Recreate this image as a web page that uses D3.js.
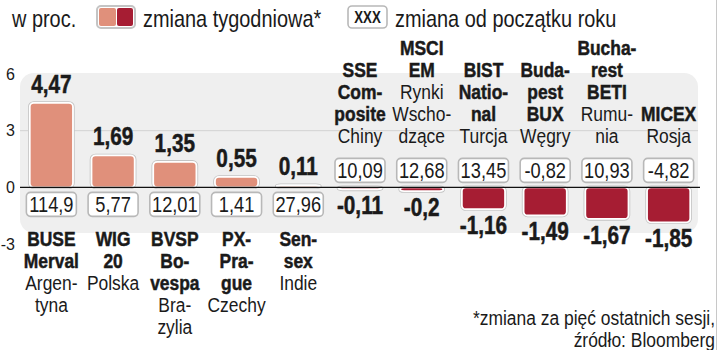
<!DOCTYPE html>
<html>
<head>
<meta charset="utf-8">
<script src="https://cdn.jsdelivr.net/npm/d3@7"></script>
<style>
  body { margin: 0; background: #fff; }
  text { font-family: 'Liberation Sans', Arial, sans-serif; fill: #1a1a1a; }
  .heavy { font-weight: bold; stroke: #1a1a1a; stroke-width: 0.5px; }
</style>
</head>
<body>
<div id="chart"></div>
<script>
// weekly change (bars) and change since start of year (boxes)
const weekly = [4.47, 1.69, 1.35, 0.55, 0.11, -0.11, -0.2, -1.16, -1.49, -1.67, -1.85]
const ytd = [114.9, 5.77, 12.01, 1.41, 27.96, 10.09, 12.68, 13.45, -0.82, 10.93, -4.82]
const indexNames = [
  ['BUSE', 'Merval'], ['WIG', '20'], ['BVSP', 'Bo-', 'vespa'], ['PX-', 'Pra-', 'gue'], ['Sen-', 'sex'],
  ['SSE', 'Com-', 'posite'], ['MSCI', 'EM'], ['BIST', 'Natio-', 'nal'], ['Buda-', 'pest', 'BUX'],
  ['Bucha-', 'rest', 'BETI'], ['MICEX'],
]
const countries = [
  ['Argen-', 'tyna'], ['Polska'], ['Bra-', 'zylia'], ['Czechy'], ['Indie'], ['Chiny'],
  ['Rynki', 'Wscho-', 'dzące'], ['Turcja'], ['Węgry'], ['Rumu-', 'nia'], ['Rosja'],
]
const yTicks = [6, 3, 0, -3]

const width = 720
const height = 350
const narrow = 0.83 // condensed look
const fmt = (v) => String(v).replace('.', ',')
const posColor = '#e0907b'
const negColor = '#a61d33'

const svg = d3.select('#chart').append('svg').attr('width', width).attr('height', height)

// condensed text helper
const cond = (px, py) => `translate(${px},${py}) scale(${narrow},1)`

const x = d3.scaleBand().domain(d3.range(weekly.length)).range([20.5, 699.5]).paddingInner(0.3).paddingOuter(0.15)
const y = d3.scaleLinear().domain([-3, 6]).range([244, 74])
const cx = (i) => x(i) + x.bandwidth() / 2

// right border
svg.append('line').attr('x1', 716.5).attr('x2', 716.5).attr('y1', 0).attr('y2', height)
  .attr('stroke', '#c8c8c8')

// gray panel
svg.append('rect').attr('x', 20).attr('y', 73).attr('width', 678).attr('height', 160)
  .attr('rx', 14).attr('fill', '#efefef')

// gridline at 3
svg.append('line').attr('x1', 20).attr('x2', 698).attr('y1', y(3)).attr('y2', y(3))
  .attr('stroke', '#d2d2d2')

// y axis labels
const yAxis = svg.append('g').attr('transform', 'translate(15,0)')
  .call(d3.axisLeft(y).tickValues(yTicks).tickSize(0).tickPadding(0).tickFormat(fmt))
yAxis.select('.domain').remove()
yAxis.selectAll('text').style('font-size', '16px').attr('fill', '#444')

// bars
const bars = svg.append('g').selectAll('g').data(weekly).join('g')
bars.append('rect')
  .attr('x', (d, i) => x(i)).attr('width', x.bandwidth())
  .attr('y', (d) => y(Math.max(0, d))).attr('height', (d) => Math.abs(y(d) - y(0)))
  .attr('rx', 4).attr('fill', 'none').attr('stroke', '#c4c4c4').attr('stroke-width', 3.5)
bars.append('rect')
  .attr('x', (d, i) => x(i)).attr('width', x.bandwidth())
  .attr('y', (d) => y(Math.max(0, d))).attr('height', (d) => Math.abs(y(d) - y(0)))
  .attr('rx', 4).attr('fill', (d) => (d >= 0 ? posColor : negColor))
  .attr('stroke', '#fff').attr('stroke-width', 1.8)

// zero line
svg.append('line').attr('x1', 20).attr('x2', 700).attr('y1', y(0)).attr('y2', y(0))
  .attr('stroke', '#111').attr('stroke-width', 1.3)

// weekly value labels
svg.append('g').selectAll('text').data(weekly).join('text')
  .attr('class', 'heavy')
  .attr('transform', (d, i) => cond(cx(i), d >= 0 ? y(d) - 10 : y(d) + 25))
  .attr('text-anchor', 'middle').style('font-size', '25px')
  .text(fmt)

// ytd boxes
const boxW = 50
const boxH = 24
const boxes = svg.append('g').selectAll('g').data(ytd).join('g')
  .attr('transform', (d, i) => {
    const top = weekly[i] >= 0 ? y(0) + 5 : y(0) - 5 - boxH
    return `translate(${cx(i) - boxW / 2}, ${top})`
  })
boxes.append('rect').attr('width', boxW).attr('height', boxH).attr('rx', 4)
  .attr('fill', '#fff').attr('stroke', '#b8b8b8').attr('stroke-width', 1.6)
boxes.append('text').attr('transform', cond(boxW / 2, boxH / 2 + 7.5)).attr('text-anchor', 'middle')
  .style('font-size', '22px').text(fmt)

// category labels
const lineH = 22
weekly.forEach((v, i) => {
  const lines = indexNames[i].map((t) => ({ t, b: true })).concat(countries[i].map((t) => ({ t, b: false })))
  const first = v >= 0 ? 246 : 143 - (lines.length - 1) * lineH
  svg.append('g').selectAll('text').data(lines).join('text')
    .attr('class', (d) => (d.b ? 'heavy' : null))
    .attr('transform', (d, j) => cond(cx(i), first + j * lineH))
    .attr('text-anchor', 'middle')
    .style('font-size', '21px')
    .text((d) => d.t)
})

// legend
const legend = svg.append('g')
legend.append('text').attr('transform', cond(12, 27)).style('font-size', '24px').attr('fill', '#333').text('w proc.')
legend.append('rect').attr('x', 97).attr('y', 6).attr('width', 38).attr('height', 22).attr('rx', 4)
  .attr('fill', '#fff').attr('stroke', '#c4c4c4').attr('stroke-width', 2)
legend.append('rect').attr('x', 99).attr('y', 8).attr('width', 17).attr('height', 18).attr('rx', 2).attr('fill', posColor)
legend.append('rect').attr('x', 117).attr('y', 8).attr('width', 16).attr('height', 18).attr('rx', 2).attr('fill', negColor)
legend.append('text').attr('transform', cond(143, 27)).style('font-size', '24px').attr('fill', '#333').text('zmiana tygodniowa*')
legend.append('rect').attr('x', 348).attr('y', 6).attr('width', 39).attr('height', 22).attr('rx', 4)
  .attr('fill', '#fff').attr('stroke', '#b8b8b8').attr('stroke-width', 1.6)
legend.append('text').attr('transform', cond(367.5, 23)).attr('text-anchor', 'middle')
  .style('font-size', '16px').style('font-weight', 'bold').text('XXX')
legend.append('text').attr('transform', cond(395, 27)).style('font-size', '24px').attr('fill', '#333').text('zmiana od początku roku')

// footnote
svg.append('text').attr('transform', cond(715, 325)).attr('text-anchor', 'end').style('font-size', '21px')
  .attr('fill', '#333').text('*zmiana za pięć ostatnich sesji,')
svg.append('text').attr('transform', cond(715, 347)).attr('text-anchor', 'end').style('font-size', '21px')
  .attr('fill', '#333').text('źródło: Bloomberg')
</script>
</body>
</html>
